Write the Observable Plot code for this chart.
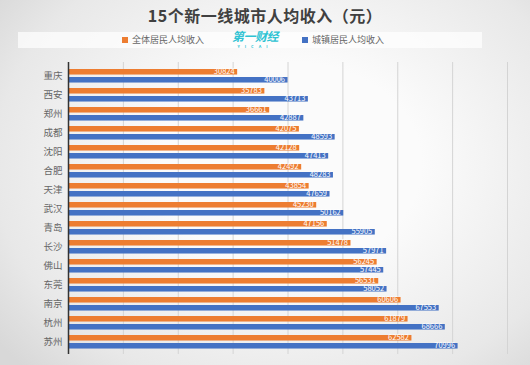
<!DOCTYPE html>
<html><head><meta charset="utf-8">
<script src="https://cdn.jsdelivr.net/npm/d3@7"></script>
<script src="https://cdn.jsdelivr.net/npm/@observablehq/plot@0.6"></script>
<style>
html,body{margin:0;padding:0;}
body{width:530px;height:365px;overflow:hidden;font-family:"Noto Sans CJK SC","Noto Sans",sans-serif;
background:radial-gradient(ellipse 70% 80% at 55% 45%, #fbfbfb 35%, #e8e8e8 80%, #d8d8d8 100%);position:relative;}
#title{position:absolute;top:3px;left:0;width:530px;text-align:center;font-size:16px;font-weight:bold;color:#404040;letter-spacing:0.5px;}
#legend{position:absolute;top:32px;left:18px;width:464px;height:16px;background:rgba(255,255,255,0.7);font-size:9px;color:#666;}
.item{position:absolute;top:1px;display:flex;align-items:center;gap:4px;}
.sw{width:6px;height:6px;display:inline-block;}
#logo{position:absolute;left:214px;top:-2px;color:#2fc3d3;font-weight:bold;font-style:italic;font-size:12px;letter-spacing:-0.5px;line-height:12px;text-align:center;}
#logo small{display:block;font-size:4px;letter-spacing:5px;line-height:4px;margin-top:2px;font-style:normal;}
#chart{position:absolute;top:52px;left:0;}
</style></head>
<body>
<div id="title">15个新一线城市人均收入（元）</div>
<div id="legend">
  <div class="item" style="left:104px"><span class="sw" style="background:#ED7D31"></span>全体居民人均收入</div>
  <div id="logo">第一财经<small>YICAI</small></div>
  <div class="item" style="left:284px"><span class="sw" style="background:#4472C4"></span>城镇居民人均收入</div>
</div>
<div id="chart"></div>
<script>
const cities = ["重庆","西安","郑州","成都","沈阳","合肥","天津","武汉","青岛","长沙","佛山","东莞","南京","杭州","苏州"];
const allResidents = [30824,35783,36661,42075,42128,42492,43854,45230,47156,51478,56245,56531,60606,61879,62582];
const urbanResidents = [40006,43713,42887,48593,47413,48283,47659,50162,55905,57971,57445,58052,67553,68666,70996];
const gridTicks = [10000,20000,30000,40000,50000,60000,70000,80000];

const orange = "#ED7D31", blue = "#4472C4";
const dataAll = cities.map((c,i)=>({city:c, value:allResidents[i]}));
const dataUrban = cities.map((c,i)=>({city:c, value:urbanResidents[i]}));

const H = 310, mt = 10, mb = 8;
const step = (H - mt - mb) / cities.length;
const chart = Plot.plot({
  width: 530, height: H,
  marginTop: mt, marginBottom: mb, marginLeft: 68, marginRight: 23,
  style: {background: "transparent", fontFamily: "'Noto Sans CJK SC', sans-serif"},
  x: {domain: [0, 80000], axis: null},
  y: {domain: cities, padding: 0, axis: null},
  marks: [
    Plot.ruleX(gridTicks, {stroke: "#d4d4d4", strokeWidth: 1}),
    Plot.barX(dataAll, {x: "value", y: "city", fill: orange, insetTop: 3, insetBottom: step - 9}),
    Plot.barX(dataUrban, {x: "value", y: "city", fill: blue, insetTop: 11, insetBottom: step - 17}),
    Plot.text(dataAll, {x: "value", y: "city", text: d => String(d.value), fill: "white", fontSize: 7.5, textAnchor: "end", dx: -3, dy: 5.5 - step/2}),
    Plot.text(dataUrban, {x: "value", y: "city", text: d => String(d.value), fill: "white", fontSize: 7.5, textAnchor: "end", dx: -3, dy: 13.5 - step/2}),
    Plot.ruleX([0], {stroke: "#333", strokeWidth: 1.5}),
    Plot.axisY({tickSize: 0, tickPadding: 6, fontSize: 9.5, fill: "#666", label: null})
  ]
});
document.getElementById("chart").appendChild(chart);
</script>
</body></html>
